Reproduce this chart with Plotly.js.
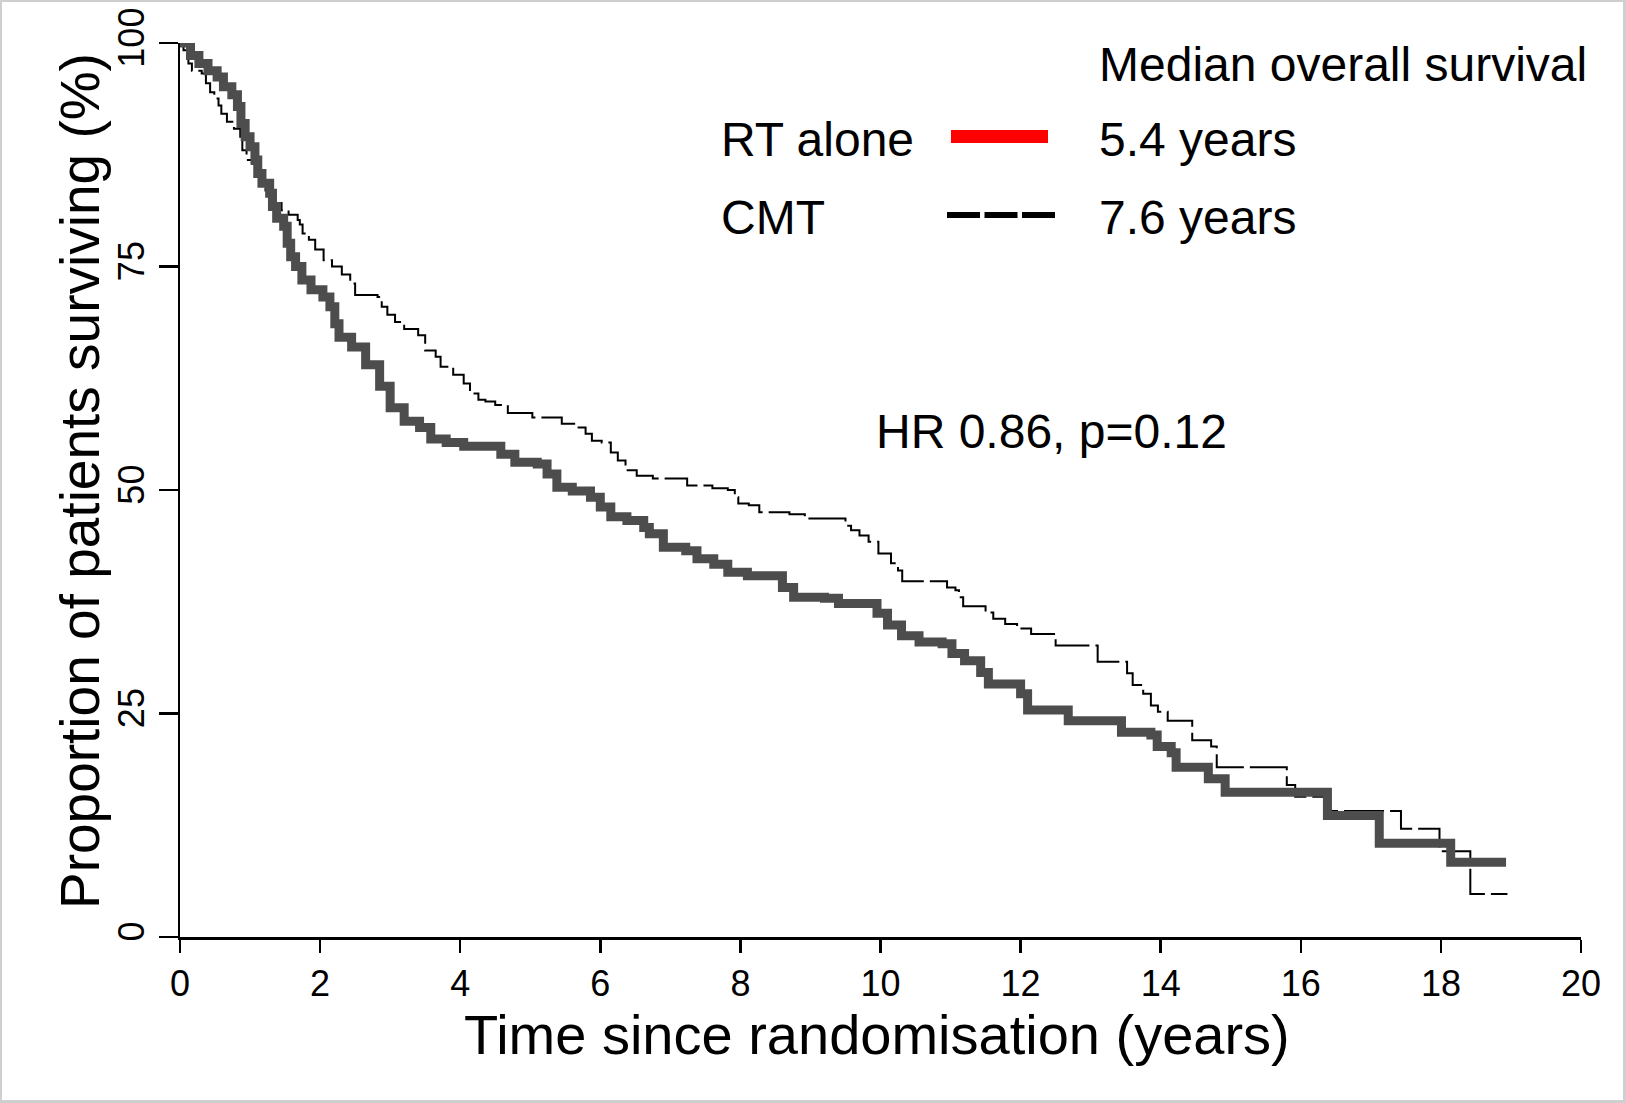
<!DOCTYPE html>
<html>
<head>
<meta charset="utf-8">
<script src="https://cdn.plot.ly/plotly-3.0.1.min.js"></script>
<style>
  html, body { margin: 0; padding: 0; background: #cfcfcf; }
  #chart { position: absolute; left: 2px; top: 2px; width: 1621px; height: 1098px; background: #fff; }
</style>
</head>
<body>
<div id="chart"></div>
<script>
// RT alone Kaplan-Meier steps (years, % surviving)
const rtTime = [0, 0.15, 0.27, 0.40, 0.53, 0.62, 0.74, 0.82, 0.87, 0.93, 1.00, 1.07, 1.11, 1.17, 1.28, 1.32, 1.38, 1.48, 1.53, 1.58, 1.65, 1.74, 1.87, 2.04, 2.14, 2.21, 2.27, 2.45, 2.65, 2.85, 3.00, 3.20, 3.42, 3.58, 3.80, 4.05, 4.58, 4.78, 5.10, 5.24, 5.38, 5.60, 5.86, 6.00, 6.15, 6.38, 6.62, 6.70, 6.90, 7.22, 7.38, 7.62, 7.82, 8.10, 8.60, 8.76, 9.20, 9.40, 9.95, 10.10, 10.30, 10.55, 10.88, 11.02, 11.20, 11.43, 11.54, 12.00, 12.10, 12.68, 13.44, 13.86, 13.95, 14.15, 14.22, 14.68, 14.92, 16.38, 17.12, 18.14, 18.93];
const rtSurv = [100, 98.6, 97.7, 96.9, 96.2, 95.1, 94.2, 92.9, 91.0, 89.5, 88.4, 86.9, 85.4, 84.3, 83.2, 81.7, 80.4, 79.5, 77.6, 76.1, 75.0, 73.5, 72.4, 71.6, 70.5, 68.6, 67.1, 66.0, 64.0, 61.6, 59.2, 57.7, 57.0, 55.7, 55.3, 54.9, 54.0, 53.1, 52.9, 51.8, 50.3, 49.9, 49.2, 48.1, 47.0, 46.6, 45.8, 45.1, 43.6, 43.2, 42.3, 41.7, 40.8, 40.4, 39.1, 38.0, 37.9, 37.3, 36.2, 34.9, 33.7, 33.0, 32.8, 31.7, 30.9, 29.6, 28.3, 27.2, 25.4, 24.2, 22.9, 22.6, 21.3, 20.6, 19.0, 17.7, 16.2, 13.6, 10.5, 8.35, 8.35];

// CMT Kaplan-Meier steps (years, % surviving)
const cmtTime = [0, 0.05, 0.12, 0.17, 0.31, 0.37, 0.43, 0.49, 0.55, 0.59, 0.67, 0.77, 0.86, 0.89, 0.95, 1.03, 1.10, 1.13, 1.22, 1.31, 1.36, 1.45, 1.55, 1.68, 1.71, 1.75, 1.84, 1.93, 2.05, 2.17, 2.31, 2.43, 2.50, 2.82, 2.88, 2.96, 3.07, 3.20, 3.40, 3.50, 3.65, 3.72, 3.90, 4.05, 4.14, 4.26, 4.36, 4.50, 4.68, 5.03, 5.45, 5.66, 5.79, 5.88, 6.02, 6.15, 6.25, 6.36, 6.52, 6.75, 7.24, 7.60, 7.82, 7.92, 7.97, 8.12, 8.27, 8.70, 8.92, 9.50, 9.58, 9.70, 9.83, 9.97, 10.15, 10.25, 10.31, 10.95, 11.07, 11.12, 11.18, 11.50, 11.61, 11.78, 11.95, 12.15, 12.50, 13.10, 13.52, 13.60, 13.75, 13.86, 13.96, 14.10, 14.45, 14.72, 14.80, 15.80, 15.92, 16.42, 17.43, 17.98, 18.42, 18.95];
const cmtSurv = [100, 99.2, 97.7, 96.9, 96.6, 95.5, 94.5, 93.8, 93.0, 92.1, 91.2, 90.4, 89.5, 88.0, 86.9, 86.5, 85.7, 84.6, 83.5, 83.0, 82.1, 81.3, 80.8, 80.2, 79.7, 78.7, 78.0, 76.9, 75.7, 75.0, 74.1, 73.1, 71.8, 71.6, 70.5, 69.6, 68.8, 68.0, 67.3, 65.6, 64.9, 63.8, 62.9, 61.9, 60.8, 60.1, 59.9, 59.5, 58.6, 58.1, 57.4, 57.0, 56.3, 55.5, 55.3, 54.2, 53.3, 52.2, 51.6, 51.3, 50.5, 50.2, 50.0, 49.2, 48.5, 48.3, 47.5, 47.3, 46.8, 46.0, 45.5, 44.9, 44.2, 42.9, 41.8, 41.0, 39.8, 39.1, 38.8, 38.0, 37.0, 36.3, 35.6, 35.0, 34.5, 33.9, 32.6, 30.8, 29.5, 28.2, 27.2, 25.9, 25.2, 24.2, 22.0, 21.3, 19.0, 17.0, 15.7, 14.1, 12.1, 9.6, 4.8, 4.8];

const xTicks = [0, 2, 4, 6, 8, 10, 12, 14, 16, 18, 20];
const yTicks = [0, 25, 50, 75, 100];
const groupNames = ["RT alone", "CMT"];
const medians = ["5.4 years", "7.6 years"];
const legendHeader = "Median overall survival";
const statText = "HR 0.86, p=0.12";
const xTitle = "Time since randomisation (years)";
const yTitle = "Proportion of patients surviving (%)";

const FONT = "Liberation Sans, Arial, Helvetica, sans-serif";

// pixel helpers for paper coordinates (plot area: x 180..1581, y 43..937 in page px)
const PX0 = 180, PX1 = 1581, PY0 = 43, PY1 = 937;
const px = v => (v - PX0) / (PX1 - PX0);
const py = v => (PY1 - v) / (PY1 - PY0);

const traces = [
  {
    x: cmtTime, y: cmtSurv, type: "scatter", mode: "lines", name: groupNames[1],
    line: { shape: "hv", color: "#000000", width: 2, dash: "40px,6px" },
    hoverinfo: "skip"
  },
  {
    x: rtTime, y: rtSurv, type: "scatter", mode: "lines", name: groupNames[0],
    line: { shape: "hv", color: "#4d4d4d", width: 9 },
    hoverinfo: "skip"
  }
];

const textFont = { family: FONT, size: 48, color: "#000" };
function ann(text, xPix, baselinePix) {
  return {
    text: text, xref: "paper", yref: "paper", x: px(xPix), y: py(baselinePix - 16),
    xanchor: "left", yanchor: "middle", showarrow: false, font: textFont
  };
}

const layout = {
  width: 1621, height: 1098,
  paper_bgcolor: "#ffffff", plot_bgcolor: "#ffffff",
  margin: { l: 178, r: 42, t: 41, b: 163 },
  showlegend: false,
  font: { family: FONT, color: "#000" },
  xaxis: {
    range: [0, 20], tickvals: xTicks, ticktext: xTicks.map(String),
    showgrid: false, zeroline: false, showline: true, linecolor: "#000", linewidth: 2.5,
    ticks: "outside", ticklen: 13, tickwidth: 2.5, tickcolor: "#000",
    tickfont: { family: FONT, size: 36, color: "#000" },
    fixedrange: true
  },
  yaxis: {
    range: [0, 100], tickvals: yTicks, ticktext: yTicks.map(String), tickangle: -90,
    showgrid: false, zeroline: false, showline: true, linecolor: "#000", linewidth: 2.5,
    ticks: "outside", ticklen: 19, tickwidth: 2.5, tickcolor: "#000",
    tickfont: { family: FONT, size: 36, color: "#000" },
    fixedrange: true
  },
  shapes: [
    { type: "line", xref: "paper", yref: "paper", x0: px(951), x1: px(1048), y0: py(136.6), y1: py(136.6),
      line: { color: "#ff0000", width: 13 } },
    { type: "line", xref: "paper", yref: "paper", x0: px(947), x1: px(1055), y0: py(215), y1: py(215),
      line: { color: "#000000", width: 6, dash: "33px,4.5px" } }
  ],
  annotations: [
    ann(legendHeader, 1097, 80),
    ann(groupNames[0], 719, 156),
    ann(medians[0], 1097, 156),
    ann(groupNames[1], 719, 233),
    ann(medians[1], 1097, 233),
    ann(statText, 874, 447),
    { text: xTitle, xref: "paper", yref: "paper", x: px(877), y: py(1053 - 19),
      xanchor: "center", yanchor: "middle", showarrow: false, borderpad: 0,
      font: { family: FONT, size: 56, color: "#000" } },
    { text: yTitle, xref: "paper", yref: "paper", x: px(80), y: py(481), textangle: -90,
      xanchor: "center", yanchor: "middle", showarrow: false,
      font: { family: FONT, size: 55, color: "#000" } }
  ]
};

Plotly.newPlot("chart", traces, layout, { displayModeBar: false, staticPlot: true });
</script>
</body>
</html>
